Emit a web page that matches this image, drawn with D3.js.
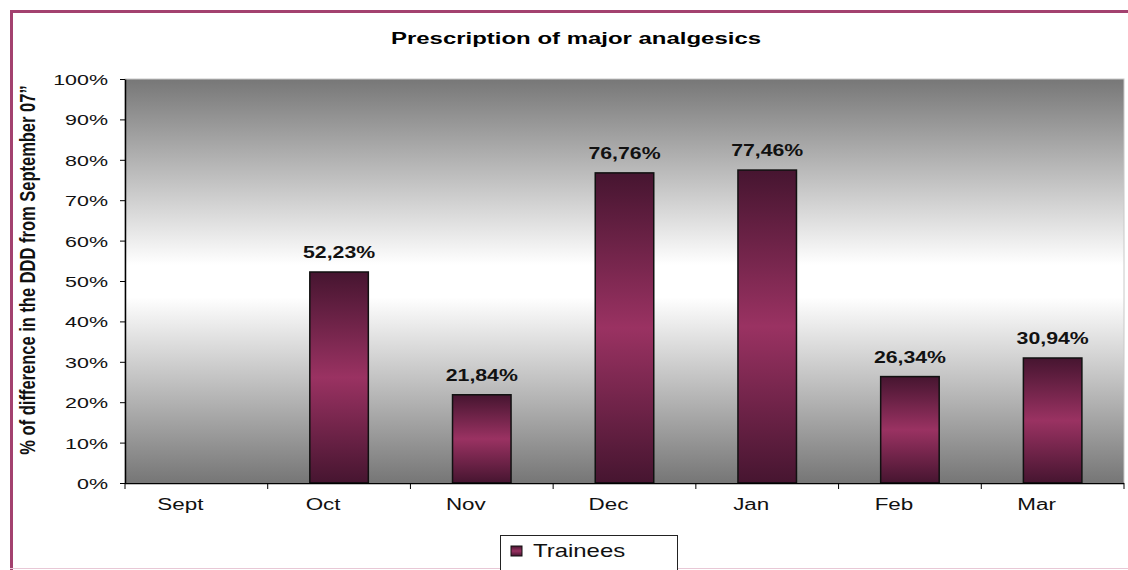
<!DOCTYPE html>
<html lang="en">
<head>
  <meta charset="UTF-8">
  <title>Prescription of major analgesics</title>
  <style>
    * { margin: 0; padding: 0; box-sizing: border-box; }
    body { background: #fff; width: 1128px; height: 570px; overflow: hidden; }
    svg { display: block; font-family: Arial, "Liberation Sans", sans-serif; }
  </style>
</head>
<body>
  <div id="chart"></div>

  <script src="https://d3js.org/d3.v7.min.js"></script>
  <script>
    // chart data
    var months = ["Sept", "Oct", "Nov", "Dec", "Jan", "Feb", "Mar"];
    var trainees = [0, 52.23, 21.84, 76.76, 77.46, 26.34, 30.94];
    var yTicks = [0, 10, 20, 30, 40, 50, 60, 70, 80, 90, 100];
    var seriesName = "Trainees";

    var W = 1128, H = 570;
    var margin = {top: 79, right: 4, bottom: 87, left: 125};
    var width = W - margin.left - margin.right;
    var height = H - margin.top - margin.bottom;

    // the original picture has its text stretched sideways
    function stretched(sel, x, y, sx) {
      return sel.attr("x", 0).attr("y", 0)
        .attr("transform", "translate(" + x + "," + y + ") scale(" + sx + ",1)");
    }

    var svg = d3.select("#chart")
      .append("svg")
        .attr("width", W)
        .attr("height", H);

    var defs = svg.append("defs");

    // plot background: gray -> white -> gray
    var bg = defs.append("linearGradient")
      .attr("id", "bgGrad")
      .attr("x1", 0).attr("y1", 0).attr("x2", 0).attr("y2", 1);
    bg.append("stop").attr("offset", "0%").attr("stop-color", "#777777");
    bg.append("stop").attr("offset", "46%").attr("stop-color", "#ffffff");
    bg.append("stop").attr("offset", "54%").attr("stop-color", "#ffffff");
    bg.append("stop").attr("offset", "100%").attr("stop-color", "#767676");

    // bar fill: dark edges, bright middle
    var barGrad = defs.append("linearGradient")
      .attr("id", "barGrad")
      .attr("x1", 0).attr("y1", 0).attr("x2", 0).attr("y2", 1);
    barGrad.append("stop").attr("offset", "0%").attr("stop-color", "#461530");
    barGrad.append("stop").attr("offset", "50%").attr("stop-color", "#9a3262");
    barGrad.append("stop").attr("offset", "100%").attr("stop-color", "#461530");

    // outer frame
    svg.append("line")
      .attr("x1", 10).attr("x2", W).attr("y1", 11.5).attr("y2", 11.5)
      .attr("stroke", "#a3416f").attr("stroke-width", 3);
    svg.append("line")
      .attr("x1", 11.5).attr("x2", 11.5).attr("y1", 10).attr("y2", H)
      .attr("stroke", "#a3416f").attr("stroke-width", 3);
    svg.append("line")
      .attr("x1", 10).attr("x2", W).attr("y1", 568.5).attr("y2", 568.5)
      .attr("stroke", "#e8c8d6").attr("stroke-width", 1);

    var g = svg.append("g")
      .attr("transform", "translate(" + margin.left + "," + margin.top + ")");

    var x = d3.scaleBand()
      .domain(months)
      .range([0, width])
      .paddingInner(0.59)
      .paddingOuter(0.295);

    var y = d3.scaleLinear()
      .domain([0, 100])
      .range([height, 0]);

    g.append("rect")
      .attr("x", 0).attr("y", 0)
      .attr("width", width).attr("height", height)
      .attr("fill", "url(#bgGrad)")
      .attr("stroke", "#c8c8c8");

    var barData = months.map(function(m, i) { return [m, trainees[i]]; })
      .filter(function(d) { return d[1] > 0; });

    // bars
    g.selectAll(".bar")
      .data(barData)
      .enter()
      .append("rect")
        .attr("class", "bar")
        .attr("x", function(d) { return x(d[0]); })
        .attr("y", function(d) { return y(d[1]); })
        .attr("width", x.bandwidth())
        .attr("height", function(d) { return height - y(d[1]); })
        .attr("fill", "url(#barGrad)")
        .attr("stroke", "#111")
        .attr("stroke-width", 1.5);

    // data labels
    g.selectAll(".lbl")
      .data(barData)
      .enter()
      .append("text")
        .attr("class", "lbl")
        .attr("text-anchor", "middle")
        .style("font-size", "17px")
        .style("font-weight", "bold")
        .attr("fill", "#111")
        .text(function(d) { return d[1].toFixed(2).replace(".", ",") + "%"; })
        .each(function(d) {
          stretched(d3.select(this), x(d[0]) + x.bandwidth() / 2, y(d[1]) - 14, 1.25);
        });

    // y axis
    var yAxis = g.append("g")
      .call(d3.axisLeft(y).tickValues(yTicks).tickSize(5).tickSizeOuter(0)
        .tickFormat(function(d) { return d + "%"; }));
    yAxis.select(".domain").attr("stroke", "#000").attr("stroke-width", 1.5);
    yAxis.selectAll(".tick line").attr("stroke", "#000");
    yAxis.selectAll("text")
      .attr("dy", "0.36em")
      .attr("fill", "#111")
      .style("font-size", "15px")
      .style("font-family", "Arial, 'Liberation Sans', sans-serif")
      .each(function() { stretched(d3.select(this), -17, 0, 1.43); });

    // x axis with ticks at category boundaries
    var step = x.step();
    var xAxis = g.append("g")
      .attr("transform", "translate(0," + height + ")");
    xAxis.append("line")
      .attr("x1", 0).attr("x2", width).attr("y1", 0.5).attr("y2", 0.5)
      .attr("stroke", "#000").attr("stroke-width", 1.5);
    xAxis.selectAll(".xt")
      .data(d3.range(months.length + 1))
      .enter()
      .append("line")
        .attr("x1", function(i) { return i * step; })
        .attr("x2", function(i) { return i * step; })
        .attr("y1", 0).attr("y2", 6)
        .attr("stroke", "#000");
    // category labels sit a little left of the bar centres in the original
    xAxis.selectAll(".xl")
      .data(months)
      .enter()
      .append("text")
        .attr("text-anchor", "middle")
        .attr("fill", "#111")
        .style("font-size", "16px")
        .text(function(d) { return d; })
        .each(function(d) {
          stretched(d3.select(this), x(d) + x.bandwidth() / 2 - 16, 27, 1.4);
        });

    // title
    stretched(svg.append("text"), 576, 44, 1.41)
      .attr("text-anchor", "middle")
      .style("font-size", "17px")
      .style("font-weight", "bold")
      .attr("fill", "#000")
      .text("Prescription of major analgesics");

    // y axis title (stretched across, so it looks condensed)
    svg.append("text")
      .attr("transform", "translate(35," + (margin.top + height / 2 - 11) + ") rotate(-90) scale(1,1.3)")
      .attr("text-anchor", "middle")
      .style("font-family", "'Liberation Sans Narrow', 'Arial Narrow', Arial, sans-serif")
      .style("font-size", "16.5px")
      .style("font-weight", "bold")
      .attr("fill", "#111")
      .text("% of difference in the DDD from September 07\u201D");

    // legend
    var legend = svg.append("g").attr("transform", "translate(500,535)");
    legend.append("rect")
      .attr("x", 0.5).attr("y", 0.5)
      .attr("width", 177).attr("height", 40)
      .attr("fill", "#fff")
      .attr("stroke", "#222");
    legend.append("rect")
      .attr("x", 11).attr("y", 11)
      .attr("width", 11).attr("height", 10)
      .attr("fill", "url(#barGrad)")
      .attr("stroke", "#111");
    stretched(legend.append("text"), 33, 22, 1.33)
      .style("font-size", "18px")
      .attr("fill", "#111")
      .text(seriesName);
  </script>
</body>
</html>
